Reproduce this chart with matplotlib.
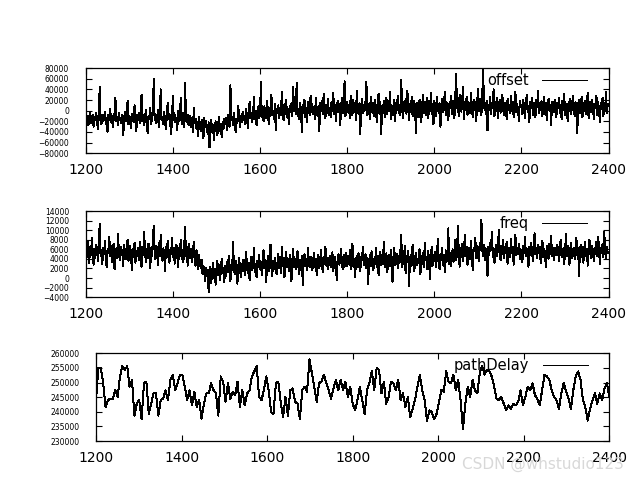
import numpy as np
import matplotlib
matplotlib.use('Agg')
import matplotlib.pyplot as plt

# offset / freq: one sample every 2 s from 1200 s, values in thousands
t_start = 1200
dt = 2
offset_k = [
    -6, -20, -10, -28, -14, -2, -24, -16, -8, -30, -12, -18, -4, -22, -34, -10, 44, -16, -26, -8,
    -20, -12, -2, -26, -14, -40, -8, -18, 4, -22, -10, -30, -16, -6, 24, -20, -12, -28, -4, -18,
    -14, -24, -8, -46, -16, -2, -20, -12, 18, -26, -10, -18, -32, -6, -14, -22, 10, -16, -38, -8,
    -18, -4, -24, -12, 30, -20, -8, -28, -14, 2, -22, -42, -10, -16, 6, -26, -12, -4, 59, -18,
    -6, -24, -14, 2, -30, -8, 40, -18, -12, -26, -2, -20, -34, -10, 14, -16, -6, -24, -44, -12,
    28, -18, -8, -22, -14, -36, 0, -20, -10, 24, -26, -12, -4, -30, 52, -16, -22, -8, -28, -14,
    -10, -30, -20, -40, 6, -24, -16, -34, -22, -48, -12, -28, -38, -18, -26, -52, -14, -30, -20, -36,
    -44, -22, -69, -30, -18, -40, -26, -56, -32, -20, -36, -46, -24, -12, -38, -28, -50, -22, -34, -16,
    -26, -14, -36, -8, -22, -30, 48, -18, -12, -28, -4, -20, -40, -16, -24, 8, -14, -30, -10, -22,
    -2, -18, -10, -26, 4, -12, -32, -6, 16, -14, -4, -22, -8, 26, -16, 0, -28, -10, 8, -14,
    -6, 54, -12, 2, -20, 8, -4, -14, 18, -2, -26, 6, -10, 30, -8, 0, -16, 12, -36, 4,
    -4, 10, -14, 6, -8, 36, 2, -18, 12, -6, 20, -12, 4, -26, 8, -2, 14, -10, 44, 0,
    8, -6, 53, -10, 4, -16, 14, 0, -40, 10, -4, 20, -12, 6, -22, 16, 2, -8, 28, -2,
    12, -6, 6, -16, 24, 2, -10, 8, -38, 14, 0, 18, -6, 32, 4, -14, 10, -4, 22, -8,
    6, -12, 16, 0, 34, -6, 10, -20, 4, 18, -2, 12, -28, 8, 24, -4, 14, 55, -10, 6,
    16, -2, 10, -14, 28, 4, -8, 20, 0, 12, -18, 38, 2, -6, 14, -44, 8, 22, -4, 10,
    0, 18, 54, -8, 12, 4, -16, 26, 6, -4, 14, -10, 20, 2, -22, 10, 32, -6, 16, -44,
    8, -2, 18, -12, 6, 24, -6, 12, 0, 36, -16, 10, 4, -8, 20, -20, 14, 2, 28, -4,
    10, -8, 58, 4, -14, 16, 0, 22, -6, 38, 6, -18, 12, -2, 26, -10, 8, 18, -4, -43,
    14, 2, -12, 20, 6, -22, 10, 30, -4, 16, -8, 4, 24, -14, 8, 0, 34, -6, 12, -26,
    18, 2, -10, 26, 6, -4, 14, -30, 10, 22, -2, 8, 36, -8, 16, 0, -18, 12, 4, 28,
    -6, 18, 8, -14, 24, 70, 4, 14, -10, 30, 6, -2, 20, 44, -16, 12, 2, 26, -8, 16,
    10, -4, 34, 8, -12, 20, 2, 16, -20, 12, 40, 0, 22, 6, -8, 28, 78, 4, 14, -6,
    18, -37, 10, 2, 26, -6, 14, 4, 40, -10, 16, 0, 24, -14, 8, 20, -4, 12, 30, 2,
    -8, 14, 6, -16, 22, 2, 10, -4, 28, 0, 16, -12, 8, 36, -2, 12, 4, -20, 18, 6,
    10, -6, 20, 2, -14, 12, 30, -2, 8, -22, 16, 4, 24, -8, 14, 0, -12, 20, 6, 38,
    -4, 12, 2, 18, -10, 8, 26, -6, 14, -18, 4, 22, 0, 10, -28, 16, 6, -2, 20, 8,
    -12, 14, 4, 24, -4, 10, -16, 18, 2, 32, -8, 12, 6, -20, 16, 0, 22, -6, 8, 28,
    4, -10, 16, 2, -42, 12, 20, -4, 8, 26, -12, 14, 0, 18, -6, 10, 34, -14, 6, 16,
    -2, 20, 8, -16, 12, 4, 28, -8, 16, 0, -22, 14, 6, 24, -10, 10, 2, 36, -4, 12,
]
freq_k = [
    6.2, 4.4, 7.6, 5.0, 3.2, 6.6, 4.8, 8.4, 5.4, 2.8, 6.0, 4.2, 7.0, 5.6, 3.6, 6.8, 11.4, 4.6, 5.8, 3.0,
    6.4, 5.0, 7.8, 4.0, 2.2, 6.0, 5.2, 8.6, 4.6, 6.8, 3.4, 5.6, 7.2, 1.8, 5.0, 6.2, 4.2, 9.2, 5.4, 3.8,
    6.6, 4.8, 5.8, 2.6, 7.0, 5.2, 4.0, 6.4, 8.0, 3.6, 5.4, 6.8, 4.4, 1.6, 6.0, 5.0, 7.4, 3.2, 5.6, 4.6,
    6.2, 3.8, 7.6, 5.0, 2.4, 6.6, 4.8, 9.6, 5.4, 3.4, 6.0, 4.2, 7.2, 5.8, 2.0, 6.4, 4.6, 8.2, 11.0, 5.2,
    4.0, 6.8, 5.4, 2.8, 7.4, 4.6, 9.0, 5.8, 3.6, 6.2, 4.8, 1.4, 6.6, 5.2, 7.8, 4.2, 3.2, 6.0, 5.0, 8.4,
    4.4, 6.4, 3.0, 5.6, 7.0, 4.8, 2.2, 6.2, 5.0, 8.0, 4.0, 5.8, 3.4, 6.6, 10.7, 4.6, 5.4, 2.6, 7.2, 5.0,
    4.2, 6.0, 3.4, 5.2, 7.6, 4.4, 2.6, 5.8, 4.0, 1.8, 4.8, 3.0, 2.0, 3.8, 0.8, 2.6, 1.2, -0.6, 2.2, 0.4,
    1.6, -2.9, 0.8, 2.4, -1.0, 1.2, 3.2, 0.0, 2.0, -1.4, 1.8, 3.6, 0.6, 2.8, -0.4, 1.4, 4.0, 1.0, 2.2, -0.8,
    2.6, 0.4, 3.4, 1.2, 4.6, 2.0, -0.6, 2.8, 1.6, 7.6, 2.2, 0.8, 3.6, 1.4, -1.2, 2.4, 4.2, 1.8, 0.2, 3.0,
    1.4, 3.8, 2.2, 0.6, 5.4, 2.6, 1.0, 3.2, -0.4, 2.0, 4.4, 1.6, 3.0, 6.2, 1.2, 2.8, 0.2, 3.6, 2.4, 4.8,
    1.8, 3.4, 0.6, 2.6, 5.8, 2.0, 3.8, -0.8, 2.4, 4.6, 1.4, 3.0, 7.0, 2.2, 0.4, 3.6, 1.8, 4.2, 2.8, 0.8,
    3.2, 5.0, 2.0, 3.8, 1.0, 6.6, 2.6, 4.2, 0.2, 3.0, 5.4, 2.2, 3.6, 1.4, 4.8, 2.8, -0.6, 3.4, 6.0, 2.4,
    4.0, 1.8, 3.2, 5.6, 2.4, 0.8, 3.8, 2.0, 4.6, -1.5, 3.0, 5.0, 2.6, 4.0, 1.6, 6.4, 3.4, 2.2, 4.4, 3.0,
    1.6, 3.8, 5.2, 2.4, 4.0, 0.6, 3.2, 4.8, 2.0, 3.6, 5.8, 2.8, 1.2, 4.4, 3.0, 6.5, 2.6, 4.2, 1.8, 3.4,
    4.6, 2.2, 3.8, 5.4, 1.4, 3.2, 4.4, 2.6, -0.4, 3.6, 5.0, 2.8, 4.2, 6.0, 3.0, 1.8, 4.8, 2.4, 3.6, 5.2,
    2.6, 4.2, 3.0, 5.8, 1.8, 3.6, 7.2, 2.4, 4.0, 0.2, 3.4, 4.6, 2.2, 5.2, 3.0, 1.4, 4.4, 3.8, 6.6, 2.8,
    3.6, 5.0, 2.0, 4.2, -1.2, 3.2, 4.8, 2.6, 5.6, 3.4, 1.6, 4.0, 3.0, 6.2, 2.4, 4.6, 0.6, 3.8, 5.4, 2.8,
    4.4, 3.0, 7.6, 2.2, 4.0, 5.2, 1.2, 3.6, 4.8, 2.6, 5.8, 3.2, -0.8, 4.2, 6.4, 2.8, 3.8, 5.0, 2.0, 4.6,
    3.2, 5.4, 9.0, 2.4, 4.2, 3.0, 6.8, 1.0, 4.6, 3.6, 5.6, -1.6, 3.8, 4.8, 2.6, 7.0, 3.4, 1.4, 4.4, 5.2,
    2.8, 4.0, 3.2, 6.0, 0.8, 4.6, 3.0, 5.2, 2.2, 7.4, 3.8, 4.4, 1.8, 5.6, 3.4, -0.2, 4.2, 6.6, 2.6, 4.8,
    3.6, 5.4, 2.4, 4.6, 8.2, 3.2, 1.8, 5.0, 3.8, 6.2, 2.8, 4.4, 1.2, 5.8, 3.4, 4.0, 10.4, 3.0, 5.2, 2.6,
    4.2, 6.0, 3.4, 5.2, 8.0, 3.8, 4.8, 11.0, 5.6, 2.4, 6.4, 4.4, 7.2, 3.6, 5.8, 9.0, 4.6, 6.6, 2.8, 5.4,
    6.2, 4.0, 7.8, 5.0, 1.6, 6.4, 5.6, 8.4, 4.2, 6.8, 5.2, 3.6, 7.4, 5.8, 12.2, 6.0, 4.6, 7.0, 3.8, 6.2,
    5.4, 0.5, 6.6, 4.8, 7.4, 5.8, 9.6, 4.4, 6.2, 3.2, 5.6, 7.0, 4.6, 6.4, 10.0, 5.2, 3.8, 6.8, 5.0, 8.0,
    4.2, 6.0, 5.4, 7.6, 3.0, 5.8, 6.4, 4.4, 8.2, 5.2, 6.6, 2.8, 5.6, 9.0, 4.8, 6.2, 5.0, 7.2, 4.0, 6.0,
    5.6, 3.4, 6.8, 5.2, 8.6, 4.6, 6.2, 5.4, 2.4, 6.6, 4.8, 7.4, 5.8, 3.6, 6.0, 9.4, 5.0, 6.4, 4.2, 7.0,
    5.4, 6.6, 3.2, 5.8, 7.8, 4.4, 6.0, 5.2, 2.2, 6.8, 5.6, 4.0, 7.2, 5.0, 8.8, 4.6, 6.2, 3.8, 5.4, 6.4,
    4.8, 7.0, 5.6, 3.6, 6.6, 8.0, 4.4, 5.8, 6.2, 3.0, 5.4, 9.2, 4.6, 6.8, 5.2, 2.8, 6.0, 7.4, 4.2, 5.6,
    6.4, 4.0, 5.8, 8.4, 4.8, 6.2, 0.5, 5.4, 7.0, 4.4, 6.6, 3.2, 5.6, 7.6, 4.6, 6.0, 2.6, 5.2, 8.0, 5.0,
    4.2, 6.8, 5.4, 3.6, 6.4, 5.0, 7.6, 4.6, 8.6, 5.8, 3.0, 6.2, 5.2, 7.2, 4.4, 9.6, 5.6, 4.0, 6.6, 5.2,
]
# pathDelay, evenly spread over 1200..2400 s, values in thousands
path_delay_k = [
    244.0, 255.0, 255.0, 249.8, 241.6, 244.0, 244.5, 244.5, 247.4, 245.1, 252.1, 255.6, 254.4, 255.6, 248.6,
    250.9, 238.7, 242.8, 244.0, 237.6, 249.8, 250.3, 239.3, 242.8, 246.3, 246.3, 238.7, 244.0, 244.5, 247.4,
    244.0, 250.9, 252.7, 247.4, 249.8, 252.7, 252.7, 248.6, 244.0, 247.4, 242.2, 246.9, 241.6, 244.0, 237.6,
    242.8, 246.3, 246.3, 249.8, 247.4, 246.3, 238.7, 252.1, 250.3, 243.4, 249.8, 244.5, 246.9, 245.7, 250.3,
    241.6, 247.4, 242.2, 246.3, 247.4, 252.1, 253.8, 255.6, 245.1, 244.0, 247.4, 252.1, 247.4, 239.9, 239.3,
    249.8, 250.3, 243.4, 238.1, 245.1, 238.7, 247.4, 248.0, 243.4, 242.8, 237.6, 247.4, 248.6, 246.9, 257.9,
    253.3, 248.6, 243.4, 249.8, 250.3, 252.7, 249.8, 247.4, 244.5, 248.0, 250.9, 247.4, 250.9, 247.4,
    250.3, 245.1, 248.6, 242.8, 240.5, 244.0, 248.6, 244.0, 239.3, 247.4, 249.8, 253.8, 247.4, 255.0, 254.4,
    246.3, 250.3, 242.8, 245.1, 250.3, 249.8, 247.4, 250.9, 244.0, 246.3, 241.6, 245.1, 238.1, 241.0, 244.0,
    248.6, 252.7, 247.4, 244.0, 237.0, 240.5, 239.9, 237.6, 239.3, 243.4, 247.4, 246.9, 253.8, 250.3, 249.8,
    252.7, 247.4, 250.9, 244.0, 234.1, 242.8, 248.6, 245.1, 250.9, 247.4, 246.3, 253.3, 255.6, 252.7, 254.4,
    253.8, 252.1, 248.6, 244.5, 244.0, 245.1, 242.8, 240.5, 242.2, 241.0, 242.8, 242.2, 243.4, 247.4, 242.2,
    245.1, 248.6, 247.4, 249.8, 245.7, 244.5, 242.2, 247.4, 252.7, 252.1, 250.9, 247.4, 245.1, 244.0, 241.0,
    246.3, 249.8, 246.9, 244.5, 241.0, 247.4, 252.1, 253.8, 250.9, 244.0, 241.6, 237.0, 241.0, 244.0, 246.3,
    242.8, 246.3, 244.0, 248.0, 249.8, 245.1,
]

t_fast = t_start + dt * np.arange(len(offset_k))
t_pd = np.linspace(1200, 2400, len(path_delay_k))
offset = np.array(offset_k) * 1000
freq = np.array(freq_k) * 1000
path_delay = np.array(path_delay_k) * 1000

plt.rcParams['font.family'] = ['DejaVu Sans']
fig = plt.figure(figsize=(6.4, 4.8), dpi=100)

panels = [
    ([0.134, 0.681, 0.817, 0.177], t_fast, offset, 'offset', (-80000, 80000), 20000),
    ([0.134, 0.381, 0.817, 0.179], t_fast, freq, 'freq', (-4000, 14000), 2000),
    ([0.150, 0.081, 0.802, 0.183], t_pd, path_delay, 'pathDelay', (230000, 260000), 5000),
]

for rect, t, y, name, ylim, ystep in panels:
    ax = fig.add_axes(rect)
    ax.plot(t, y, '-', color='black', lw=0.72, antialiased=False, label=name)
    ax.set_xlim(1200, 2400)
    ax.set_ylim(*ylim)
    ax.set_xticks(np.arange(1200, 2401, 200))
    ax.set_yticks(np.arange(ylim[0], ylim[1] + 1, ystep))
    ax.ticklabel_format(axis='y', style='plain', useOffset=False)
    ax.tick_params(direction='in', top=True, right=True, length=4, width=0.8)
    ax.tick_params(axis='x', labelsize=10, pad=7)
    ax.tick_params(axis='y', labelsize=5.5, pad=12)
    for s in ax.spines.values():
        s.set_linewidth(0.9)
    ax.legend(loc='upper right', bbox_to_anchor=(0.968, 1.0), frameon=False,
              markerfirst=False, fontsize=10.5, handlelength=3.1, handletextpad=0.9,
              borderaxespad=0.0, borderpad=0.35)

fig.text(0.975, 0.033, 'CSDN @whstudio123', ha='right', va='center',
         fontsize=11, color='#d8d8d8')

fig.savefig('out.png', dpi=100)
